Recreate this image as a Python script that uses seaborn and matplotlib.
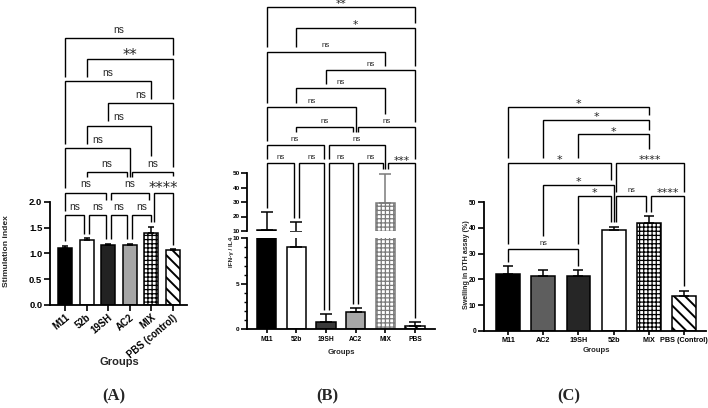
import numpy as np
import pandas as pd
import matplotlib
matplotlib.use("Agg")
import matplotlib.pyplot as plt
from matplotlib.ticker import MultipleLocator
import seaborn as sns

# ---- panel A: stimulation index ----
groups_a = ["M11", "52b", "19SH", "AC2", "MIX", "PBS (control)"]
mean_a = [1.11, 1.25, 1.17, 1.17, 1.40, 1.06]
sem_a = [0.04, 0.04, 0.02, 0.02, 0.12, 0.02]
pairs_a = [("M11", "52b"), ("52b", "19SH"), ("19SH", "AC2"), ("AC2", "MIX"),
           ("M11", "19SH"), ("19SH", "MIX"), ("MIX", "PBS (control)"),
           ("52b", "AC2"), ("AC2", "PBS (control)"),
           ("M11", "AC2"), ("52b", "MIX"), ("19SH", "PBS (control)"),
           ("M11", "MIX"), ("52b", "PBS (control)"), ("M11", "PBS (control)")]
labels_a = ["ns", "ns", "ns", "ns", "ns", "ns", "****", "ns", "ns",
            "ns", "ns", "ns", "ns", "**", "ns"]
heights_a = [1.74, 1.74, 1.74, 1.74, 2.18, 2.18, 2.18, 2.58, 2.58,
             3.04, 3.48, 3.91, 4.34, 4.77, 5.18]

# ---- panel B: IFN-g / IL4 (broken axis) ----
groups_b = ["M11", "52b", "19SH", "AC2", "MIX", "PBS"]
mean_b = [11.0, 9.0, 0.8, 1.9, 29.5, 0.4]
sem_b = [12.0, 7.0, 0.85, 0.4, 20.0, 0.37]
pairs_b = [("M11", "52b"), ("52b", "19SH"), ("19SH", "AC2"), ("AC2", "MIX"), ("MIX", "PBS"),
           ("M11", "19SH"), ("19SH", "MIX"),
           ("52b", "AC2"), ("AC2", "PBS"),
           ("M11", "AC2"), ("52b", "MIX"), ("19SH", "PBS"),
           ("M11", "MIX"), ("52b", "PBS"), ("M11", "PBS")]
labels_b = ["ns", "ns", "ns", "ns", "***", "ns", "ns", "ns", "ns",
            "ns", "ns", "ns", "ns", "*", "**"]
heights_b = [56.7, 56.7, 56.7, 56.7, 56.7, 69.3, 69.3, 81.9, 81.9,
             95.3, 108.4, 121.0, 133.7, 150.2, 164.7]

# ---- panel C: DTH swelling ----
groups_c = ["M11", "AC2", "19SH", "52b", "MIX", "PBS (Control)"]
mean_c = [22.0, 21.3, 21.2, 39.0, 41.8, 13.4]
sem_c = [3.0, 2.3, 2.4, 1.5, 2.8, 2.2]
pairs_c = [("M11", "19SH"),
           ("19SH", "52b"), ("52b", "MIX"), ("MIX", "PBS (Control)"),
           ("AC2", "52b"),
           ("M11", "52b"), ("52b", "PBS (Control)"),
           ("19SH", "MIX"), ("AC2", "MIX"), ("M11", "MIX")]
labels_c = ["ns", "*", "ns", "****", "*", "*", "****", "*", "*", "*"]
heights_c = [31.8, 52.4, 52.4, 52.4, 56.7, 65.4, 65.4, 76.5, 82.0, 87.2]

sns.set_style("ticks")
plt.rcParams["font.family"] = ["Liberation Sans", "DejaVu Sans"]
plt.rcParams["font.weight"] = "bold"
plt.rcParams["hatch.linewidth"] = 1.4
plt.rcParams["axes.linewidth"] = 1.3
plt.rcParams["axes.edgecolor"] = "black"
plt.rcParams["xtick.color"] = "black"
plt.rcParams["ytick.color"] = "black"

W, H = 708, 408
fig = plt.figure(figsize=(W / 100, H / 100), dpi=100)


def px_axes(l, t, r, b):
    ax = fig.add_axes([l / W, 1 - b / H, (r - l) / W, (b - t) / H])
    ax.set_facecolor("none")
    return ax


def ftext(x, y, s, **kw):
    fig.text(x / W, 1 - y / H, s, ha="center", va="center", **kw)


def bars(ax, groups, means, sems, faces, edges, hatches, width, cap, ecol=None):
    df = pd.DataFrame({"group": groups, "value": means})
    sns.barplot(data=df, x="group", y="value", order=groups, ax=ax, width=width,
                errorbar=None, linewidth=1.1, edgecolor="black")
    for p, fc, ec, ht in zip(ax.patches, faces, edges, hatches):
        p.set_facecolor(fc)
        p.set_edgecolor(ec)
        p.set_hatch(ht)
        # thinner grid for the checkered MIX bars
        if ht.startswith("+") and hasattr(p, "set_hatch_linewidth"):
            p.set_hatch_linewidth(0.9)
    ecol = ecol or ["black"] * len(groups)
    for k in range(len(groups)):
        ax.errorbar([k], [means[k]], yerr=[[0], [sems[k]]], fmt="none", ecolor=ecol[k],
                    elinewidth=1.1, capsize=cap, capthick=1.1)
    ax.set_xlabel("")
    ax.set_ylabel("")
    sns.despine(ax=ax)


def draw_brackets(ax, order, pairs, labels, heights, tops, bar_w, fs_ns, fs_star, ns_dy, gap=4.5):
    obst = []
    for k, (bax, t) in enumerate(tops):
        xa, ya = bax.transData.transform((k - bar_w / 2, t))
        xb, _ = bax.transData.transform((k + bar_w / 2, t))
        obst.append((xa, xb, ya))
    inv = ax.transData.inverted()
    pt = 100 / 72
    for h in sorted(set(heights)):
        level = [(order.index(a), order.index(b), lab)
                 for (a, b), lab, hh in zip(pairs, labels, heights) if hh == h]
        lefts = [i for i, j, _ in level]
        rights = [j for i, j, _ in level]
        new = []
        for i, j, lab in level:
            xi, y = ax.transData.transform((i, h))
            xj = ax.transData.transform((j, h))[0]
            if i in rights:
                xi += 2.5
            if j in lefts:
                xj -= 2.5

            def floor(x):
                c = [o[2] for o in obst if o[0] - 1 <= x <= o[1] + 1 and o[2] < y - 1]
                return max(c) + gap if c else y - 6

            pts = inv.transform([(xi, floor(xi)), (xi, y), (xj, y), (xj, floor(xj))])
            ax.plot(pts[:, 0], pts[:, 1], color="black", lw=1.0, clip_on=False,
                    solid_joinstyle="miter", solid_capstyle="butt")
            xc = (xi + xj) / 2
            xcd = inv.transform((xc, y))[0]
            if lab == "ns":
                ax.annotate(lab, (xcd, h), xytext=(0, ns_dy), textcoords="offset points",
                            ha="center", va="baseline", fontsize=fs_ns, fontweight="normal",
                            annotation_clip=False)
                wpx = 1.06 * fs_ns * pt
                top = y + ns_dy * pt + 0.55 * fs_ns * pt
            else:
                ax.annotate(lab, (xcd, h), xytext=(0, -0.3), textcoords="offset points",
                            ha="center", va="baseline", fontsize=fs_star, fontweight="normal",
                            family="DejaVu Sans", annotation_clip=False)
                wpx = 0.5 * len(lab) * fs_star * pt
                top = y + 0.8 * fs_star * pt
            new.append((xi, xj, y))
            new.append((xc - wpx / 2 - 2, xc + wpx / 2 + 2, top))
        obst.extend(new)


# ===== panel A =====
ax_a = px_axes(50, 20, 186.7, 304.8)
bars(ax_a, groups_a, mean_a, sem_a,
     faces=["black", "white", "#222222", "#a6a6a6", "white", "white"],
     edges=["black"] * 6, hatches=["", "", "", "", "++++", "\\\\\\"], width=0.65, cap=2.5)
ax_a.set_xlim(-0.70, 5.65)
ax_a.set_ylim(0, (304.8 - 20) / 51.5)
ax_a.spines["left"].set_bounds(0, 2)
ax_a.set_yticks([0, 0.5, 1.0, 1.5, 2.0])
ax_a.set_yticklabels([f"{v:.1f}" for v in [0, 0.5, 1.0, 1.5, 2.0]])
ax_a.set_xticks(range(6))
ax_a.set_xticklabels(groups_a, rotation=40, ha="right", rotation_mode="anchor")
ax_a.tick_params(length=4, width=1.2, labelsize=6.8, pad=1.5)
ax_a.tick_params(axis="x", labelsize=6.9)
draw_brackets(ax_a, groups_a, pairs_a, labels_a, heights_a,
              [(ax_a, m + s) for m, s in zip(mean_a, sem_a)], 0.65, 7.3, 10.5, 3.9)
ftext(119, 362, "Groups", fontsize=8)
ftext(7, 251, "Stimulation index", fontsize=6.1, rotation=90)
ftext(114, 396, "(A)", fontsize=12, family="Liberation Serif")

# ===== panel B =====
faces_b = ["black", "white", "#3a3a3a", "#a8a8a8", "white", "white"]
edges_b = ["black", "black", "black", "black", "#7a7a7a", "black"]
hatch_b = ["", "", "", "", "++++", "\\\\\\"]
ecol_b = ["black", "black", "black", "black", "#7a7a7a", "black"]
ax_bl = px_axes(247.3, 238.3, 435, 329.3)
ax_bu = px_axes(247.3, 0, 435, 231)
for ax in (ax_bl, ax_bu):
    bars(ax, groups_b, mean_b, sem_b, faces_b, edges_b, hatch_b, width=0.65, cap=4.5, ecol=ecol_b)
    ax.set_xlim(-0.654, 5.674)
ax_bl.set_ylim(0, 10)
ax_bu.set_ylim(10, 10 + 231 / 1.45)
ax_bl.set_yticks([0, 5, 10])
ax_bl.yaxis.set_minor_locator(MultipleLocator(1))
ax_bl.tick_params(axis="y", which="minor", length=2.5, width=1.0)
ax_bl.tick_params(length=4, width=1.2, labelsize=4.6, pad=1.5)
ax_bl.tick_params(axis="x", labelsize=4.8, length=3)
ax_bu.set_yticks([10, 20, 30, 40, 50])
ax_bu.spines["left"].set_bounds(10, 50)
ax_bu.spines["bottom"].set_visible(False)
ax_bu.tick_params(axis="x", bottom=False, labelbottom=False)
ax_bu.tick_params(axis="y", length=4, width=1.2, labelsize=4.6, pad=1.5)
tops_b = [(ax_bu if m + s > 10 else ax_bl, m + s) for m, s in zip(mean_b, sem_b)]
draw_brackets(ax_bu, groups_b, pairs_b, labels_b, heights_b, tops_b, 0.65, 5.7, 7.7, 3.0)
ftext(341, 352, "Groups", fontsize=5.6)
ftext(231, 252, "IFN-\u03b3 / IL4", fontsize=4.6, rotation=90)
ftext(327, 396, "(B)", fontsize=12, family="Liberation Serif")

# ===== panel C =====
ax_c = px_axes(484, 95, 706, 330.7)
bars(ax_c, groups_c, mean_c, sem_c,
     faces=["black", "#5e5e5e", "#262626", "white", "white", "white"],
     edges=["black"] * 6, hatches=["", "", "", "", "++++", "\\\\\\"], width=0.68, cap=3.5)
ax_c.set_xlim(-0.69, 5.63)
ax_c.set_ylim(0, (330.7 - 95) / 2.57)
ax_c.spines["left"].set_bounds(0, 50)
ax_c.set_yticks([0, 10, 20, 30, 40, 50])
ax_c.tick_params(length=4, width=1.2, labelsize=4.8, pad=1.5)
ax_c.tick_params(axis="x", labelsize=5.2, length=3)
draw_brackets(ax_c, groups_c, pairs_c, labels_c, heights_c,
              [(ax_c, m + s) for m, s in zip(mean_c, sem_c)], 0.68, 5.3, 8, 3.2)
ftext(596, 350, "Groups", fontsize=5.6)
ftext(466, 265, "Swelling in DTH assay (%)", fontsize=5.1, rotation=90)
ftext(569, 396, "(C)", fontsize=12, family="Liberation Serif")

fig.savefig("out.png", dpi=100)
